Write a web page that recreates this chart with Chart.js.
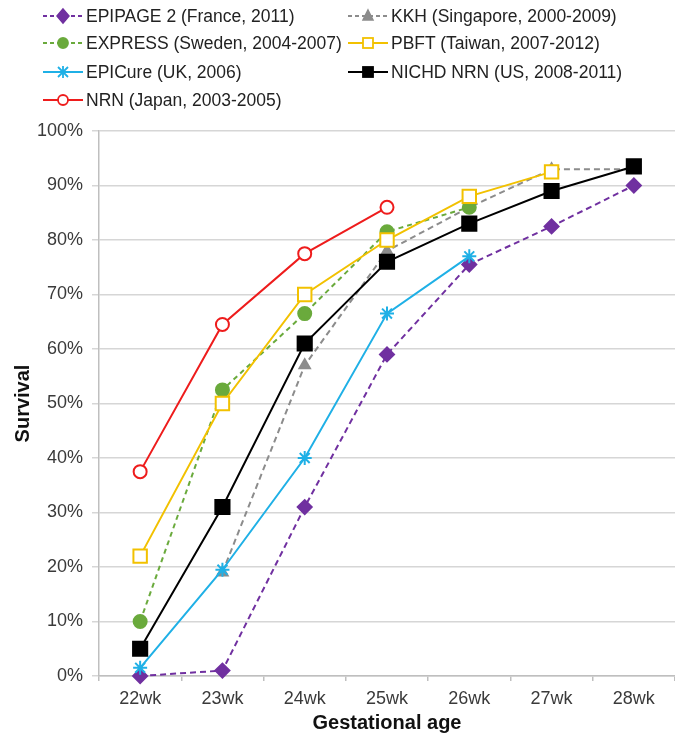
<!DOCTYPE html>
<html><head><meta charset="utf-8">
<script src="https://cdn.jsdelivr.net/npm/chart.js@4"></script>
<style>
html,body{margin:0;padding:0;background:#fff;}
#wrap{position:relative;width:675px;height:740px;font-family:"Liberation Sans",Arial,sans-serif;}
#c{position:absolute;left:0;top:0;}
#legend{position:absolute;left:0;top:0;width:675px;height:120px;}
.li{position:absolute;font-size:17.5px;color:#222;white-space:nowrap;display:flex;align-items:center;height:22px;}
.li svg{margin-right:3px;}
</style></head>
<body><div id="wrap"><canvas id="c" width="675" height="740"></canvas><div id="legend"></div></div>
<script>
const categories = ["22wk","23wk","24wk","25wk","26wk","27wk","28wk"];
const seriesNames = ["EPIPAGE 2 (France, 2011)","KKH (Singapore, 2000-2009)","EXPRESS (Sweden, 2004-2007)","PBFT (Taiwan, 2007-2012)","EPICure (UK, 2006)","NICHD NRN (US, 2008-2011)","NRN (Japan, 2003-2005)"];
const epipage = [0, 1, 31, 59, 75.5, 82.5, 90];
const kkh = [null, 19, 57, 78, 86, 93, 93];
const express = [10, 52.5, 66.5, 81.5, 86, null, null];
const pbft = [22, 50, 70, 80, 88, 92.5, null];
const epicure = [1.5, 19.5, 40, 66.5, 77, null, null];
const nichd = [5, 31, 61, 76, 83, 89, 93.5];
const nrn = [37.5, 64.5, 77.5, 86, null, null, null];
const yTicks = [0,10,20,30,40,50,60,70,80,90,100];

const styles = [
  {data:epipage,color:'#7030A0',dash:[6,4],point:'rectRot',r:7,fill:'#7030A0'},
  {data:kkh,color:'#8c8c8c',dash:[6,4],point:'triangle',r:6,fill:'#8c8c8c'},
  {data:express,color:'#6aaa3c',dash:[5,4],point:'circle',r:6.5,fill:'#6aaa3c'},
  {data:pbft,color:'#F2C100',dash:[],point:'rect',r:9.5,fill:'#ffffff'},
  {data:epicure,color:'#1FB0E6',dash:[],point:'star',r:7,fill:'#1FB0E6'},
  {data:nichd,color:'#000000',dash:[],point:'rect',r:10,fill:'#000000'},
  {data:nrn,color:'#EE1C1C',dash:[],point:'circle',r:6.5,fill:'#ffffff'}
];

const datasets = styles.map((s,i)=>({
  label: seriesNames[i], data: s.data, borderColor: s.color, backgroundColor: s.fill,
  borderWidth: 2, borderDash: s.dash, pointStyle: s.point, pointRadius: s.r,
  pointBorderColor: s.color, pointBackgroundColor: s.fill, pointBorderWidth: 2,
  tension: 0, fill: false, order: 7 - i, clip: 12
}));

const FONT = '"Liberation Sans", Arial, sans-serif';

new Chart(document.getElementById('c'), {
  type:'line',
  data:{labels:categories, datasets:datasets},
  options:{
    responsive:false, animation:false,
    layout:{autoPadding:false, padding:{top:131,left:0,right:0,bottom:0}},
    plugins:{legend:{display:false},tooltip:{enabled:false}},
    scales:{
      x:{
        offset:true,
        grid:{offset:true,drawOnChartArea:false,drawTicks:true,tickLength:5,color:'#bfbfbf',lineWidth:1.5},
        border:{color:'#bfbfbf',width:1.5},
        ticks:{color:'#3a3a3a',font:{family:FONT,size:18},padding:7,maxRotation:0},
        title:{display:true,text:'Gestational age',color:'#111',font:{family:FONT,size:20,weight:'bold'},padding:{top:0,bottom:5}},
        afterFit:(s)=>{s.height=64; s.paddingLeft=0; s.paddingRight=0;}
      },
      y:{
        min:0,max:100,
        afterBuildTicks:(s)=>{s.ticks = yTicks.map(v=>({value:v}));},
        grid:{color:'#d6d6d6',lineWidth:1.5,drawTicks:true,tickLength:7},
        border:{color:'#bfbfbf',width:1.5},
        ticks:{color:'#3a3a3a',font:{family:FONT,size:18},padding:9,callback:(v)=>v+'%'},
        title:{display:true,text:'Survival',color:'#111',font:{family:FONT,size:20,weight:'bold'},padding:{top:11,bottom:0}},
        afterFit:(s)=>{s.width=99;}
      }
    }
  }
});

// HTML legend built from series names and styles
const legend = document.getElementById('legend');
const pos = [[43,5],[348,5],[43,32],[348,32],[43,61],[348,61],[43,89]];
function markerSvg(s){
  const dash = s.dash.length ? 'stroke-dasharray="4,3"' : '';
  let m='';
  const c=s.color, f=s.fill;
  if(s.point==='rectRot') m=`<polygon points="20,4 26,11 20,18 14,11" fill="${f}" stroke="${c}" stroke-width="1.5"/>`;
  else if(s.point==='triangle') m=`<polygon points="20,5 25,15 15,15" fill="${f}" stroke="${c}" stroke-width="1.5"/>`;
  else if(s.point==='circle') m=`<circle cx="20" cy="11" r="5" fill="${f}" stroke="${c}" stroke-width="1.8"/>`;
  else if(s.point==='rect') m=`<rect x="15" y="6" width="10" height="10" fill="${f}" stroke="${c}" stroke-width="1.8"/>`;
  else if(s.point==='star') m=`<path d="M15,6 L25,16 M25,6 L15,16 M20,5 L20,17" stroke="${c}" stroke-width="1.8"/>`;
  return `<svg width="40" height="22"><line x1="0" y1="11" x2="40" y2="11" stroke="${c}" stroke-width="2" ${dash}/>${m}</svg>`;
}
styles.forEach((s,i)=>{
  const d=document.createElement('div');
  d.className='li'; d.style.left=pos[i][0]+'px'; d.style.top=pos[i][1]+'px';
  d.innerHTML = markerSvg(s)+'<span>'+seriesNames[i]+'</span>';
  legend.appendChild(d);
});
</script></body></html>
